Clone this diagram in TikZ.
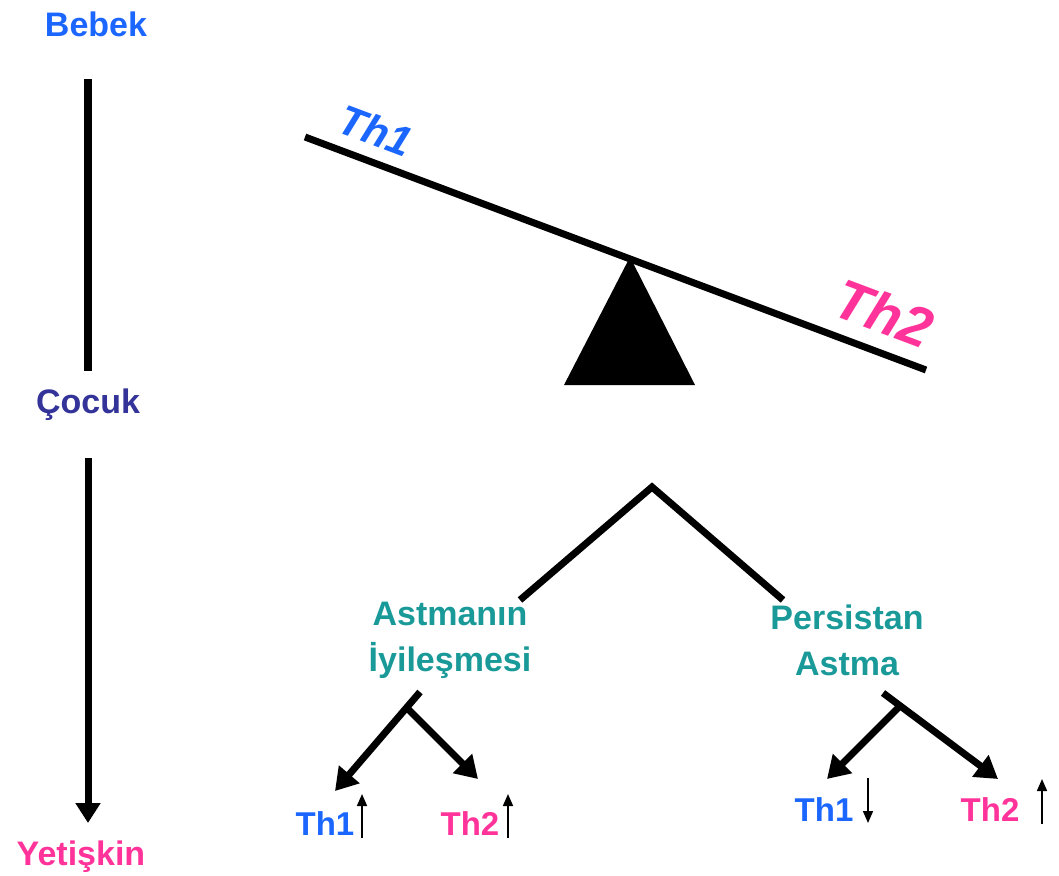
\documentclass[tikz,border=0pt]{standalone}
\usepackage{fontspec}
\setmainfont{Liberation Sans}
\usetikzlibrary{arrows.meta}
\definecolor{cblue}{HTML}{1A66FF}
\definecolor{cpurple}{HTML}{333399}
\definecolor{cpink}{HTML}{FF3399}
\definecolor{cteal}{HTML}{1A9999}
\tikzset{
  lbl/.style={font=\fontsize{34}{46}\selectfont\bfseries, inner sep=0pt, align=center},
  small/.style={font=\fontsize{33}{40}\selectfont\bfseries, inner sep=0pt},
  bigarrow/.style={line width=7pt, -{Triangle[length=22pt,width=26pt]}},
  tinyarrow/.style={line width=1.6pt, -{Triangle[length=12pt,width=10pt]}},
}
\begin{document}
\begin{tikzpicture}[x=1pt,y=-1pt]
\useasboundingbox (0,0) rectangle (1059,875);
% timeline
\node[lbl, text=cblue] (bebek) at (96,24) {Bebek};
\node[lbl, text=cpurple] (cocuk) at (88,405) {Çocuk};
\node[lbl, text=cpink] (yet) at (81,857) {Yetişkin};
\coordinate (t1a) at (88,79);
\coordinate (t1b) at (88,371);
\coordinate (t2a) at (88,458);
\coordinate (t2b) at (88,823);
\draw[line width=8pt] (t1a) -- (t1b);
\draw[line width=7pt, -{Triangle[length=20pt,width=24pt]}] (t2a) -- (t2b);
% seesaw
\coordinate (bl) at (305,137);
\coordinate (br) at (926,370);
\draw[line width=7pt] (bl) -- (br);
\coordinate (apex) at (630,257);
\coordinate (tl) at (564,385);
\coordinate (tr) at (695,385);
\fill (apex) -- (tl) -- (tr) -- cycle;
\node[font=\fontsize{42}{44}\selectfont\bfseries\itshape, text=cblue, inner sep=0pt, rotate=-20.6] (th1b) at (376,130) {Th1};
\node[font=\fontsize{56}{58}\selectfont\bfseries\itshape, text=cpink, inner sep=0pt, rotate=-20.6] (th2b) at (884,313) {Th2};
% branching
\coordinate (top) at (652,487);
\coordinate (ltop) at (520,600);
\coordinate (rtop) at (783,600);
\draw[line width=7pt] (ltop) -- (top) -- (rtop);
\node[lbl, text=cteal] (heal) at (450,640) {Astmanın\\İyileşmesi};
\node[lbl, text=cteal] (pers) at (847,640) {Persistan\\Astma};
% left subtree
\coordinate (l0) at (420,692);
\coordinate (lj) at (407,708);
\coordinate (l1) at (335,791);
\coordinate (l2) at (478,779);
\draw[bigarrow] (l0) -- (l1);
\draw[bigarrow] (lj) -- (l2);
% right subtree
\coordinate (r0) at (883,693);
\coordinate (rj) at (900,706);
\coordinate (r1) at (827,779);
\coordinate (r2) at (998,779);
\draw[bigarrow] (rj) -- (r1);
\draw[bigarrow] (r0) -- (r2);
% leaves
\node[small, text=cblue] (a1) at (325,824) {Th1};
\node[small, text=cpink] (a2) at (470,824) {Th2};
\node[small, text=cblue] (b1) at (824,810) {Th1};
\node[small, text=cpink] (b2) at (990,810) {Th2};
\coordinate (a1s) at (362,838); \coordinate (a1e) at (362,794);
\coordinate (a2s) at (508,838); \coordinate (a2e) at (508,794);
\coordinate (b1s) at (868,778); \coordinate (b1e) at (868,823);
\coordinate (b2s) at (1042,824); \coordinate (b2e) at (1042,779);
\draw[tinyarrow] (a1s) -- (a1e);
\draw[tinyarrow] (a2s) -- (a2e);
\draw[tinyarrow] (b1s) -- (b1e);
\draw[tinyarrow] (b2s) -- (b2e);
\end{tikzpicture}
\end{document}
